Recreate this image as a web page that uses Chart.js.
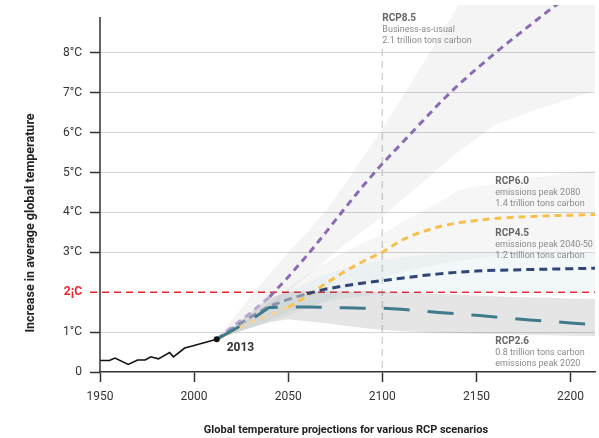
<!DOCTYPE html>
<html>
<head>
<meta charset="utf-8">
<script src="https://cdn.jsdelivr.net/npm/chart.js@4.4.1/dist/chart.umd.min.js"></script>
<style>
  html, body { margin: 0; padding: 0; background: #fff; }
  #wrap { width: 599px; height: 438px; position: relative; }
</style>
</head>
<body>
<div id="wrap"><canvas id="myChart"></canvas></div>
<script>
// observed record
var histYears = [1950, 1955, 1958, 1965, 1970, 1974, 1977, 1981, 1987, 1989, 1995, 1999, 2012];
var histTemp  = [0.29, 0.29, 0.35, 0.19, 0.30, 0.30, 0.38, 0.33, 0.49, 0.38, 0.60, 0.65, 0.82];

// projections
var projYears = [2012, 2020, 2030, 2040, 2050, 2060, 2070, 2080, 2090, 2100, 2110, 2120, 2130, 2140, 2150, 2160, 2170, 2180, 2190, 2200, 2213];
var rcp85 = [0.82, 1.12, 1.48, 1.88, 2.38, 2.92, 3.50, 4.10, 4.68, 5.22, 5.72, 6.22, 6.72, 7.18, 7.60, 8.00, 8.38, 8.75, 9.12, 9.45, 9.90];
var rcp60 = [0.82, 1.00, 1.25, 1.42, 1.62, 1.90, 2.22, 2.52, 2.78, 3.00, 3.30, 3.50, 3.64, 3.74, 3.80, 3.85, 3.88, 3.90, 3.92, 3.93, 3.95];
var rcp45 = [0.82, 1.08, 1.38, 1.65, 1.82, 1.96, 2.08, 2.16, 2.23, 2.29, 2.35, 2.41, 2.46, 2.50, 2.53, 2.55, 2.56, 2.57, 2.58, 2.59, 2.60];
var rcp26 = [0.82, 1.03, 1.30, 1.62, 1.63, 1.63, 1.62, 1.61, 1.60, 1.60, 1.57, 1.53, 1.49, 1.46, 1.42, 1.38, 1.34, 1.30, 1.27, 1.23, 1.19];

// uncertainty ranges
var band85Hi = [0.82, 1.30, 1.90, 2.45, 3.00, 3.50, 4.05, 4.70, 5.40, 6.10, 6.85, 7.60, 8.40, 9.15, 9.90, 10.6, 11.3, 12.0, 12.7, 13.4, 14.3];
var band85Lo = [0.82, 1.00, 1.30, 1.65, 2.00, 2.40, 2.80, 3.20, 3.55, 3.90, 4.30, 4.70, 5.10, 5.50, 5.85, 6.20, 6.37, 6.55, 6.70, 6.85, 7.05];
var band60Hi = [0.82, 1.05, 1.40, 1.75, 2.10, 2.45, 2.75, 3.00, 3.25, 3.45, 3.75, 4.00, 4.25, 4.55, 4.65, 4.72, 4.80, 4.87, 4.93, 5.00, 5.05];
var band60Lo = [0.82, 0.95, 1.10, 1.25, 1.40, 1.60, 1.80, 2.00, 2.20, 2.35, 2.50, 2.60, 2.70, 2.78, 2.85, 2.90, 2.95, 2.98, 3.00, 3.02, 3.05];
var band45Hi = [0.82, 1.05, 1.35, 1.70, 2.00, 2.25, 2.45, 2.60, 2.72, 2.80, 2.87, 2.92, 2.96, 2.99, 3.00, 3.00, 3.00, 3.00, 3.00, 3.00, 3.00];
var band45Lo = [0.82, 0.95, 1.10, 1.30, 1.50, 1.65, 1.75, 1.85, 1.90, 1.95, 2.00, 2.00, 2.00, 2.00, 2.00, 2.00, 2.00, 2.00, 2.00, 2.00, 2.00];
var band26Hi = [0.82, 1.10, 1.50, 1.85, 2.02, 2.03, 2.03, 2.03, 2.03, 2.02, 2.00, 1.98, 1.96, 1.94, 1.92, 1.90, 1.88, 1.87, 1.86, 1.84, 1.83];
var band26Lo = [0.82, 0.95, 1.10, 1.25, 1.32, 1.27, 1.22, 1.16, 1.10, 1.05, 1.02, 1.00, 0.98, 0.97, 0.96, 0.95, 0.94, 0.93, 0.92, 0.91, 0.90];

// axes
var xTickValues = [1950, 2000, 2050, 2100, 2150, 2200];
var yTickValues = [0, 1, 2, 3, 4, 5, 6, 7, 8];
var yTickLabels = ['0', '1°C', '2¡C', '3°C', '4°C', '5°C', '6°C', '7°C', '8°C'];

// scenario notes
var notes = [
    { year: 2100, ys: [21, 32, 43], lines: ['RCP8.5', 'Business-as-usual', '2.1 trillion tons carbon'] },
    { year: 2160, ys: [184, 195, 206], lines: ['RCP6.0', 'emissions peak 2080', '1.4 trillion tons carbon'] },
    { year: 2160, ys: [236, 247, 258], lines: ['RCP4.5', 'emissions peak 2040-50', '1.2 trillion tons carbon'] },
    { year: 2160, ys: [344, 355, 366], lines: ['RCP2.6', '0.8 trillion tons carbon', 'emissions peak 2020'] }
];

var FONT = 'Roboto, "Noto Sans", sans-serif';

function pts(xs, ys) {
    return xs.map(function(x, i) { return { x: x, y: ys[i] }; });
}

function band(hi, lo, color, order) {
    return [
        { data: pts(projYears, hi), borderWidth: 0, pointRadius: 0, fill: '+1', backgroundColor: color, order: order },
        { data: pts(projYears, lo), borderWidth: 0, pointRadius: 0, fill: false, order: order }
    ];
}

function scenario(vals, color, light, until, dash, order) {
    return {
        data: pts(projYears, vals),
        borderColor: color,
        borderWidth: 3,
        borderDash: dash,
        pointRadius: 0,
        fill: false,
        order: order,
        segment: {
            borderColor: function(ctx) { return ctx.p1.parsed.x <= until ? light : color; }
        }
    };
}

// reference lines and text
var overlay = {
    id: 'overlay',
    beforeDatasetsDraw: function(chart) {
        var c = chart.ctx, a = chart.chartArea, xs = chart.scales.x, ys = chart.scales.y;
        c.save();
        // 2100 marker
        c.strokeStyle = '#d2d2d2';
        c.lineWidth = 1.5;
        c.setLineDash([7, 5]);
        var x21 = xs.getPixelForValue(2100);
        c.beginPath();
        c.moveTo(x21, ys.getPixelForValue(8.1));
        c.lineTo(x21, a.bottom);
        c.stroke();
        // 2 degree line
        var y2 = ys.getPixelForValue(2);
        c.strokeStyle = '#e8262a';
        c.lineWidth = 1.6;
        c.beginPath();
        c.moveTo(a.left - 10, y2);
        c.lineTo(a.right, y2);
        c.stroke();
        c.restore();
    },
    afterDraw: function(chart) {
        var c = chart.ctx, a = chart.chartArea, xs = chart.scales.x, ys = chart.scales.y;
        c.save();
        // y axis line
        c.strokeStyle = '#333';
        c.lineWidth = 1.5;
        c.beginPath();
        c.moveTo(a.left, ys.getPixelForValue(8.9));
        c.lineTo(a.left, a.bottom);
        c.stroke();

        // 2013 label
        c.fillStyle = '#333';
        c.font = 'bold 12px ' + FONT;
        c.textAlign = 'left';
        c.textBaseline = 'alphabetic';
        c.fillText('2013', xs.getPixelForValue(2012) + 10, 351);

        // scenario notes
        notes.forEach(function(n) {
            var x = xs.getPixelForValue(n.year);
            n.lines.forEach(function(t, i) {
                c.font = (i === 0 ? 'bold 10px ' : '9px ') + FONT;
                c.fillStyle = i === 0 ? '#666' : '#8a8a8a';
                c.fillText(t, x, n.ys[i]);
            });
        });

        // axis titles
        c.fillStyle = '#222';
        c.font = 'bold 11px ' + FONT;
        c.textAlign = 'center';
        c.fillText('Global temperature projections for various RCP scenarios', 346, 433);

        c.translate(31, 223);
        c.rotate(-Math.PI / 2);
        c.font = 'bold 12.5px ' + FONT;
        c.textBaseline = 'middle';
        c.fillText('Increase in average global temperature', 0, 0);
        c.restore();
    }
};

var datasets = [
    // observed
    {
        data: pts(histYears, histTemp),
        borderColor: '#111',
        borderWidth: 1.6,
        pointRadius: histYears.map(function(y, i) { return i === histYears.length - 1 ? 3 : 0; }),
        pointBackgroundColor: '#111',
        pointBorderWidth: 0,
        fill: false,
        tension: 0,
        order: 0
    },
    scenario(rcp26, '#3f7b8b', '#3f7b8b', 0, [26, 18], 1),
    scenario(rcp45, '#2f4676', '#8a93ab', 2060, [8, 5], 2),
    scenario(rcp60, '#f6c04c', '#f1d49c', 2050, [7, 5], 3),
    scenario(rcp85, '#8b6bb3', '#b9a6d3', 2040, [7, 5], 4)
].concat(
    band(band26Hi, band26Lo, 'rgba(0,0,0,0.10)', 10),
    band(band45Hi, band45Lo, 'rgba(185,212,228,0.18)', 11),
    band(band60Hi, band60Lo, 'rgba(0,0,0,0.035)', 12),
    band(band85Hi, band85Lo, 'rgba(0,0,0,0.045)', 13)
);

var ctx = document.getElementById('myChart').getContext('2d');

var myChart = new Chart(ctx, {
    type: 'line',
    data: { datasets: datasets },
    plugins: [overlay],
    options: {
        responsive: true,
        maintainAspectRatio: false,
        animation: false,
        layout: { padding: { left: 0, right: 0, top: 5, bottom: 0 } },
        plugins: {
            legend: { display: false },
            tooltip: { enabled: false }
        },
        scales: {
            x: {
                type: 'linear',
                min: 1950,
                max: 2213,
                afterFit: function(scale) {
                    scale.height = 66;
                    scale.paddingLeft = 0;
                    scale.paddingRight = 0;
                },
                afterBuildTicks: function(scale) {
                    scale.ticks = xTickValues.map(function(v) { return { value: v }; });
                },
                grid: {
                    drawOnChartArea: false,
                    drawTicks: true,
                    tickLength: 10,
                    tickColor: '#333',
                    tickWidth: 1.5
                },
                border: { display: true, color: '#333', width: 1.5 },
                ticks: {
                    padding: 8,
                    color: '#333',
                    maxRotation: 0,
                    font: { family: FONT, size: 12 },
                    callback: function(v) { return String(v); }
                }
            },
            y: {
                min: 0,
                max: 9.2,
                afterFit: function(scale) {
                    scale.width = 100;
                    scale.paddingTop = 0;
                    scale.paddingBottom = 0;
                },
                afterBuildTicks: function(scale) {
                    scale.ticks = yTickValues.map(function(v) { return { value: v }; });
                },
                grid: {
                    color: function(c) { return c.tick && (c.tick.value === 2 || c.tick.value === 0) ? 'rgba(0,0,0,0)' : '#d4d4d4'; },
                    lineWidth: 1,
                    tickLength: 10,
                    tickWidth: 1.5,
                    tickColor: function(c) { return c.tick && c.tick.value === 2 ? 'rgba(0,0,0,0)' : '#333'; }
                },
                border: { display: false },
                ticks: {
                    padding: 8,
                    color: function(c) { return c.tick && c.tick.value === 2 ? '#e8262a' : '#333'; },
                    font: function(c) {
                        return c.tick && c.tick.value === 2
                            ? { family: FONT, size: 12, weight: 'bold' }
                            : { family: FONT, size: 12 };
                    },
                    callback: function(v) { return yTickLabels[yTickValues.indexOf(v)]; }
                }
            }
        }
    }
});
</script>
</body>
</html>
